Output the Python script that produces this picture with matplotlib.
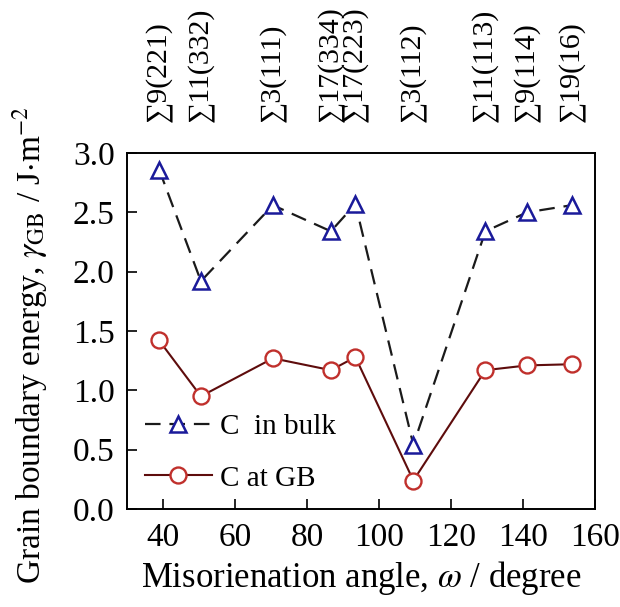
import matplotlib
matplotlib.use("Agg")
import matplotlib.pyplot as plt
import matplotlib.transforms as mtransforms

plt.rcParams['font.family'] = ['Liberation Serif', 'DejaVu Serif']
plt.rcParams['mathtext.fontset'] = 'stix'

# Misorientation angles of the boundaries and their CSL labels
angles = [38.9, 50.5, 70.5, 86.6, 93.4, 109.5, 129.5, 141.1, 153.5]
boundaries = ['∑9(221)', '∑11(332)', '∑3(111)', '∑17(334)', '∑17(223)',
              '∑3(112)', '∑11(113)', '∑9(114)', '∑19(16)']

# Grain boundary energy, J/m^2
energy_bulk = [2.86, 1.92, 2.56, 2.34, 2.57, 0.54, 2.34, 2.50, 2.56]
energy_gb = [1.42, 0.95, 1.27, 1.17, 1.28, 0.24, 1.17, 1.21, 1.22]

fig = plt.figure(figsize=(6.2, 6.07), dpi=100)
ax = fig.add_axes([0.205, 0.1614, 0.755, 0.5866])

ax.plot(angles, energy_bulk, color='#1a1a1a', lw=1.6, dashes=(7, 4),
        marker='^', ms=11, mfc='white', mec='#1a1a9a', mew=1.8,
        label='C  in bulk')
ax.plot(angles, energy_gb, color='#5e0c0c', lw=1.5,
        marker='o', ms=11.5, mfc='white', mec='#c0302c', mew=1.7,
        label='C at GB')

ax.set_xlim(30, 160)
ax.set_ylim(0, 3.0)
ax.set_xticks(range(40, 161, 20))
ax.set_yticks([0, 0.5, 1.0, 1.5, 2.0, 2.5, 3.0])
ax.set_yticklabels(['0.0', '0.5', '1.0', '1.5', '2.0', '2.5', '3.0'])
ax.tick_params(direction='in', length=7, width=1.2, labelsize=24)
ax.tick_params(axis='x', pad=10)
ax.tick_params(axis='y', pad=9)
for s in ax.spines.values():
    s.set_linewidth(1.4)

ax.set_xlabel('Misorienation angle, $\\omega$ / degree', fontsize=25, labelpad=4)
ax.set_ylabel('Grain boundary energy, $\\gamma_{\\mathrm{GB}}$ / J$\\cdot$m$^{-2}$',
              fontsize=24)
ax.yaxis.set_label_coords(-0.165, 0.46)

# CSL labels above the plot
trans = mtransforms.blended_transform_factory(ax.transData, ax.transAxes)
for a, b in zip(angles, boundaries):
    ax.text(a, 1.087, b, transform=trans, rotation=90, ha='center', va='bottom',
            fontsize=21.5)

ax.legend(loc='lower left', bbox_to_anchor=(0.0, 0.0), frameon=False,
          fontsize=21, handlelength=2.3, handletextpad=0.3, labelspacing=0.85,
          borderaxespad=0.2)

fig.savefig('out.png', dpi=100)
